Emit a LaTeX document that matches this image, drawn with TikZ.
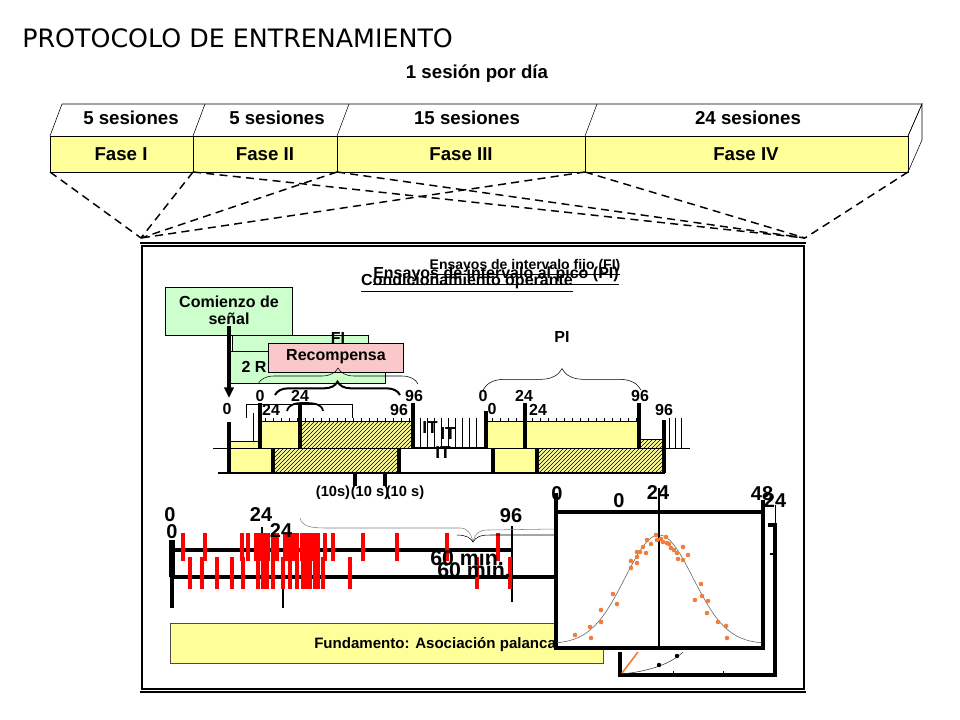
\documentclass[tikz,border=0pt]{standalone}
\usepackage{fontspec}
\setmainfont{Liberation Sans}
\newfontfamily\titlefont{DejaVu Sans}
\usetikzlibrary{patterns,decorations.pathreplacing,arrows.meta}
\definecolor{amarillo}{RGB}{255,255,153}
\definecolor{verde}{RGB}{204,255,204}
\definecolor{rosa}{RGB}{250,200,200}
\definecolor{naranja}{RGB}{240,125,60}

\begin{document}
\begin{tikzpicture}[x=0.75pt,y=0.75pt,yscale=-1,xscale=1,
  txt/.style={inner sep=0.75pt,font=\bfseries\fontsize{12}{13}\selectfont},
  grande/.style={inner sep=0.75pt,font=\bfseries\fontsize{14}{15}\selectfont},
  numg/.style={inner sep=0.5pt,font=\bfseries\fontsize{15}{15}\selectfont},
  marca/.style={line width=2.6pt},
  guia/.style={line width=1.1pt,dash pattern=on 6pt off 4pt},
  rojo/.style={red,line width=2.3pt},
  rayado/.style={fill=amarillo,postaction={pattern=north east lines}},
  llave/.style={decorate,decoration={brace,amplitude=#1}}]
\useasboundingbox (0,0) rectangle (960,720);
\fill[white] (0,0) rectangle (960,720);

% Text Node
\node[anchor=base west,inner sep=0pt,font=\titlefont\fontsize{19}{19}\selectfont] (titulo) at (22,48) {PROTOCOLO DE ENTRENAMIENTO};
% Text Node
\node[grande] (sesdia) at (477,74) {1 sesión por día};

%Shape: Phase band, top face
\draw (50,136) -- (62,104) -- (922,104) -- (908,136) ;
\draw (193,136) -- (205,104) ;
\draw (337,136) -- (349,104) ;
\draw (585,136) -- (597,104) ;
%Shape: Phase band, side face
\draw (908,136) -- (922,104) -- (922,140) -- (908,172) ;
%Shape: Phase band, front face
\draw[fill=amarillo] (50,136) rectangle (908,172) ;
\draw (193,136) -- (193,172) ;
\draw (337,136) -- (337,172) ;
\draw (585,136) -- (585,172) ;

% Text Node
\node[grande] (ses1) at (131,118) {5 sesiones};
\node[grande] (ses2) at (277,118) {5 sesiones};
\node[grande] (ses3) at (467,118) {15 sesiones};
\node[grande] (ses4) at (748,118) {24 sesiones};
\node[grande] (fase1) at (121,154) {Fase I};
\node[grande] (fase2) at (265,154) {Fase II};
\node[grande] (fase3) at (461,154) {Fase III};
\node[grande] (fase4) at (746,154) {Fase IV};

%Straight Lines: zoom guides
\coordinate (izq) at (141,238);
\coordinate (der) at (805,238);
\foreach \xa in {50,193,337,585} \draw[guia] (\xa,172) -- (izq);
\foreach \xa in {193,337,585,908} \draw[guia] (\xa,172) -- (der);

%Shape: Panel frame
\draw[line width=1.5pt] (140,243) -- (806,243) ;
\draw[line width=1.5pt] (140,692) -- (806,692) ;
\draw[line width=0.8pt] (142,246) rectangle (804,689) ;

% Text Node: panel titles
\node[txt,font=\bfseries\fontsize{12}{13}\selectfont] (condop) at (467,283) {\underline{Condicionamiento operante}};
\node[txt] (ensPI) at (496,276) {\underline{Ensayos de intervalo al pico (PI)}};
\node[txt,font=\bfseries\fontsize{10.5}{12}\selectfont] (ensFI) at (525,267) {\underline{Ensayos de intervalo fijo (FI)}};

%Shape: Green boxes
\draw[fill=verde] (165,287) rectangle (292,335) ;
\draw[fill=verde] (232,335) rectangle (368,351) ;
\draw[fill=verde] (227,351) rectangle (385,383) ;
\node[txt,align=center] (comienzo) at (229,310) {Comienzo de\\señal};
\node[txt] (fi) at (338,338) {FI};
\node[txt] (dosr) at (254,367) {2 R};
%Shape: Pink box
\draw[fill=rosa] (268,343) rectangle (403,372) ;
\node[txt] (recomp) at (336,357) {Recompensa};

%Curve Lines: braces
\draw[llave=12pt] (258,384) -- (418,384) ;
\draw[llave=10pt,line width=1.5pt] (275,395) -- (400,395) ;
\draw[llave=16pt] (483,390) -- (641,390) ;
\node[txt] (pi) at (562,337) {PI};
\draw (246,418) -- (246,404) -- (352,404) -- (352,418) ;
\draw (253,413) -- (253,441) ;
\draw[line width=1.3pt] (287,411) .. controls (289,403) and (298,403) .. (305,403) .. controls (314,403) and (322,404) .. (323,411) ;

%Shape: upper row
\draw[fill=amarillo] (229,441) rectangle (260,448) ;
\draw[fill=amarillo] (260,421) rectangle (300,448) ;
\draw[rayado] (300,421) rectangle (413,448) ;
\draw[fill=amarillo] (486,421) rectangle (639,448) ;
\draw[rayado] (639,439) rectangle (663,448) ;
\foreach \xa in {265,273,...,410} \draw (\xa,421) -- (\xa,418) ;
\foreach \xa in {492,500,...,636} \draw (\xa,421) -- (\xa,418) ;
\foreach \xa in {420,427,...,482} \draw (\xa,418) -- (\xa,448) ;
\foreach \xa in {669,675,681} \draw (\xa,418) -- (\xa,448) ;
\draw (213,448) -- (690,448) ;
\draw[line width=2pt] (413,448) -- (486,448) ;
%Shape: lower row
\draw[fill=amarillo] (229,448) rectangle (273,473) ;
\draw[rayado] (273,448) rectangle (399,473) ;
\draw[fill=amarillo] (493,448) rectangle (537,473) ;
\draw[rayado] (537,448) rectangle (664,473) ;
\draw[line width=1.2pt] (218,473) -- (664,473) ;

%Straight Lines: time marks
\coordinate (ini) at (229,398);
\draw[marca] (229,422) -- (229,473) ;
\draw[marca] (260,403) -- (260,448) ;
\draw[marca] (300,403) -- (300,448) ;
\draw[marca] (413,403) -- (413,448) ;
\draw[marca] (486,411) -- (486,448) ;
\draw[marca] (525,403) -- (525,448) ;
\draw[marca] (639,403) -- (639,448) ;
\draw[marca] (664,420) -- (664,473) ;
\draw[marca] (273,448) -- (273,473) ;
\draw[marca] (399,448) -- (399,473) ;
\draw[marca] (493,448) -- (493,473) ;
\draw[marca] (537,448) -- (537,473) ;
\draw[marca] (355,473) -- (355,486) ;
\draw[marca] (385,473) -- (385,486) ;
\draw[line width=2.5pt,-{Triangle[length=8pt,width=7pt]}] (comienzo.south) -- (ini) ;

% Text Node: time labels
\node[txt] (c0) at (227,409) {0};
\node[txt] (c0b) at (260,396) {0};
\node[txt] (c24) at (271,410) {24};
\node[txt] (c24b) at (300,396) {24};
\node[txt] (c96) at (399,410) {96};
\node[txt] (c96b) at (414,396) {96};
\node[txt] (c0c) at (483,396) {0};
\node[txt] (c0d) at (492,409) {0};
\node[txt] (c24c) at (524,396) {24};
\node[txt] (c24d) at (538,410) {24};
\node[txt] (c96c) at (640,396) {96};
\node[txt] (c96d) at (664,410) {96};
\node[txt,font=\bfseries\fontsize{13}{13}\selectfont] (it1) at (430,428) {IT};
\node[txt,font=\bfseries\fontsize{13}{13}\selectfont] (it2) at (448,434) {IT};
\node[txt,font=\bfseries\fontsize{13}{13}\selectfont] (it3) at (443,453) {IT};
\node[txt,font=\bfseries\fontsize{11}{11}\selectfont] (diez1) at (333,493) {(10s)};
\node[txt,font=\bfseries\fontsize{11}{11}\selectfont] (diez2) at (370,493) {(10 s)};
\node[txt,font=\bfseries\fontsize{11}{11}\selectfont] (diez3) at (405,493) {(10 s)};

%Straight Lines: response record
\draw[line width=2.5pt] (172,550) -- (512,550) ;
\draw[line width=2.5pt] (172,577) -- (556,577) ;
\draw[line width=4pt] (172,540) -- (172,577) ;
\draw[line width=2.5pt] (172,577) -- (172,608) ;
\draw[line width=2.2pt] (262,527) -- (262,577) ;
\draw[line width=2.2pt] (283,577) -- (283,608) ;
\draw[line width=2pt] (512,526) -- (512,602) ;
\foreach \xa in {183,205,242,248,256,260,264,268,273,277,285,289,293,297,302,306,310,314,318,325,333,363,397,447,498}
  \draw[rojo] (\xa,533) -- (\xa,561) ;
\foreach \xa in {190,202,217,232,243,258,263,267,273,283,290,297,303,307,310,315,318,323,350,477,510}
  \draw[rojo] (\xa,557) -- (\xa,589) ;
%Curve Lines: hour brace
\draw[gray] (300,518) .. controls (302,526) and (310,528) .. (325,528) -- (460,528) .. controls (468,528) and (471,534) .. (473,542) .. controls (475,534) and (478,530) .. (488,530) -- (556,529) ;
\draw (457,535) .. controls (466,535) and (471,538) .. (473,542) .. controls (476,537) and (480,535) .. (490,535) -- (556,535) ;
\node[numg,font=\bfseries\fontsize{16}{16}\selectfont] (min1) at (467,558) {60 min.};
\node[numg,font=\bfseries\fontsize{16}{16}\selectfont] (min2) at (474,570) {60 min.};
\node[numg] (r0) at (170,515) {0};
\node[numg] (r0b) at (172,532) {0};
\node[numg] (r24) at (261,515) {24};
\node[numg] (r24b) at (281,531) {24};
\node[numg] (r96) at (511,516) {96};

%Shape: Fundamento box
\draw[gray!60!black,fill=amarillo] (170,623) rectangle (603,663) ;
\node[txt,anchor=base west,font=\bfseries\fontsize{11.3}{12}\selectfont] (fundam) at (313,648) {Fundamento: Asociación palanca};

%Shape: back graph
\draw[line width=2.5pt] (768,525) -- (775,525) -- (775,675) -- (620,675) -- (620,652) ;
\draw (775,505) -- (775,525) ;
\draw[line width=1.2pt] (770,554) -- (775,554) ;
\draw (673,675) -- (673,671) ;
\draw (723,675) -- (723,671) ;
\draw[naranja,line width=1.2pt] (622,673) -- (638,652) ;
\draw[gray!40!black] (621,674) .. controls (645,672) and (670,665) .. (683,652) ;
\fill (659,665) circle (2.2) ;
\fill (677,656) circle (2.2) ;

%Shape: front graph
\draw[line width=2.6pt,fill=white] (556,512) rectangle (763,648) ;
\draw[gray!70!black,domain=557:762,samples=80] plot (\x,{644-109*exp(-((\x-659)^2)/2312)}) ;
\draw[line width=1.2pt] (659,488) -- (659,648) ;
\draw[marca] (556,493) -- (556,512) ;
\draw[marca] (763,500) -- (763,512) ;
\foreach \xa/\ya in {575/635,590/627,591/638,601/610,601/622,613/594,617/604,631/561,631/568,637/563,637/557,637/552,640/552,643/547,647/540,646/553,651/544,657/540,656/535,661/539,663/542,666/537,667/543,669/544,671/548,674/550,677/553,678/559,683/560,683/547,688/555,701/584,702/596,695/600,708/601,707/613,718/622,726/626,727/638}
  \fill[naranja] (\xa,\ya) circle (2.3) ;
\node[numg] (g0) at (557,494) {0};
\node[numg] (g0b) at (619,501) {0};
\node[numg] (g24) at (658,493) {24};
\node[numg] (g48) at (762,494) {48};
\node[numg] (g24b) at (775,501) {24};

\end{tikzpicture}
\end{document}
